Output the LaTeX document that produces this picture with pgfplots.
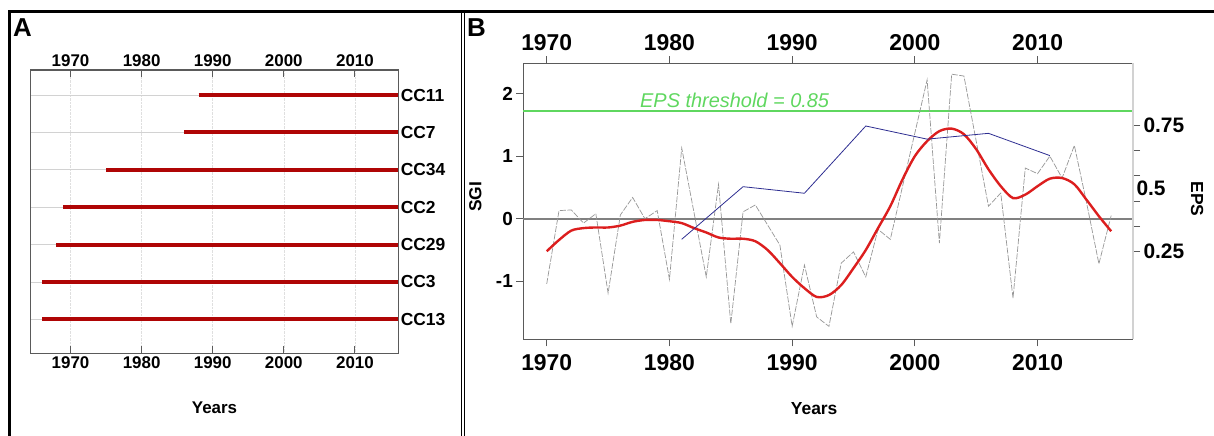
\documentclass[border=0pt]{standalone}
\usepackage{pgfplots}
\pgfplotsset{compat=1.18}
\usepackage{fontspec}
\setmainfont{Liberation Sans}
\definecolor{barred}{RGB}{175,5,5}
\definecolor{smred}{RGB}{220,30,30}
\definecolor{epsblue}{RGB}{45,45,145}
\definecolor{thrgreen}{RGB}{95,215,95}
\definecolor{sgigrey}{RGB}{150,150,150}
\definecolor{axgrey}{RGB}{90,90,90}

\pgfplotstableread{
year sgi
1970 -1.04
1971 0.13
1972 0.14
1973 -0.07
1974 0.08
1975 -1.19
1976 0.06
1977 0.34
1978 0.0
1979 0.13
1980 -0.97
1981 1.13
1982 0.1
1983 -0.93
1984 0.55
1985 -1.68
1986 0.11
1987 0.22
1988 -0.1
1989 -0.42
1990 -1.72
1991 -0.74
1992 -1.57
1993 -1.72
1994 -0.71
1995 -0.53
1996 -0.93
1997 -0.17
1998 -0.33
1999 0.52
2000 1.37
2001 2.22
2002 -0.39
2003 2.31
2004 2.28
2005 1.24
2006 0.2
2007 0.41
2008 -1.27
2009 0.81
2010 0.72
2011 1.0
2012 0.65
2013 1.17
2014 0.25
2015 -0.72
2016 0.05
}\sgitable

\pgfplotstableread{
year smooth
1970 -0.52
1971 -0.34
1972 -0.19
1973 -0.15
1974 -0.14
1975 -0.14
1976 -0.11
1977 -0.05
1978 -0.02
1979 -0.02
1980 -0.04
1981 -0.07
1982 -0.15
1983 -0.22
1984 -0.30
1985 -0.32
1986 -0.32
1987 -0.36
1988 -0.50
1989 -0.71
1990 -0.93
1991 -1.11
1992 -1.25
1993 -1.22
1994 -1.06
1995 -0.79
1996 -0.50
1997 -0.15
1998 0.20
1999 0.63
2000 1.00
2001 1.24
2002 1.40
2003 1.44
2004 1.35
2005 1.11
2006 0.79
2007 0.52
2008 0.33
2009 0.385
2010 0.52
2011 0.64
2012 0.65
2013 0.55
2014 0.30
2015 0.04
2016 -0.20
}\smoothtable

\pgfplotstableread{
year eps
1981 0.299
1986 0.507
1991 0.481
1996 0.747
2001 0.695
2006 0.718
2011 0.630
}\epstable

\begin{document}
\begin{tikzpicture}[x=1bp,y=1bp]
\useasboundingbox (0,0) rectangle (1214,436);
% frame
\draw[line width=3bp] (9.5,0) -- (9.5,424) -- (1214,424);
\draw[line width=1.5bp] (461.5,0) -- (461.5,424);
\draw[line width=1.5bp] (464.5,0) -- (464.5,424);
\node[anchor=base west, inner sep=0, font=\fontsize{26}{30}\selectfont\bfseries] at (13,399) {A};
\node[anchor=base west, inner sep=0, font=\fontsize{26}{30}\selectfont\bfseries] at (467,399) {B};

% ---------------- Panel A ----------------
\begin{axis}[
  at={(30.7bp,82.7bp)}, anchor=south west, scale only axis,
  width=367.6bp, height=283.3bp,
  xmin=1964.4, xmax=2016.1, ymin=0.09, ymax=7.67,
  axis line style={axgrey, line width=1.2bp},
  tick align=inside, major tick length=7bp,
  xtick={1970,1980,...,2010},
  x tick style={axgrey, line width=1bp},
  ytick={1,...,7},
  yticklabels={CC13,CC3,CC29,CC2,CC34,CC7,CC11},
  yticklabel pos=right,
  y tick style={draw=none},
  xmajorgrids, ymajorgrids,
  x grid style={gray!25, densely dotted, line width=0.6bp},
  y grid style={gray!35, line width=0.6bp},
  x tick label style={font=\fontsize{17}{19}\selectfont\bfseries},
  y tick label style={font=\fontsize{17.5}{20}\selectfont\bfseries, xshift=-1bp},
  /pgf/number format/assume math mode=true,
  /pgf/number format/1000 sep={},
  xlabel={Years},
  xlabel style={at={(axis description cs:0.5,0)}, anchor=center, yshift=-54bp, font=\fontsize{17}{20}\selectfont\bfseries},
]
\addplot[barred, line width=4bp] coordinates {(1988,7) (2016.1,7)};
\addplot[barred, line width=4bp] coordinates {(1986,6) (2016.1,6)};
\addplot[barred, line width=4bp] coordinates {(1975,5) (2016.1,5)};
\addplot[barred, line width=4bp] coordinates {(1969,4) (2016.1,4)};
\addplot[barred, line width=4bp] coordinates {(1968,3) (2016.1,3)};
\addplot[barred, line width=4bp] coordinates {(1966,2) (2016.1,2)};
\addplot[barred, line width=4bp] coordinates {(1966,1) (2016.1,1)};
\end{axis}

\begin{axis}[
  at={(30.7bp,82.7bp)}, anchor=south west, scale only axis,
  width=367.6bp, height=283.3bp,
  xmin=1964.4, xmax=2016.1, ymin=0.09, ymax=7.67,
  axis x line*=top, axis line style={draw=none},
  hide y axis,
  xtick={1970,1980,...,2010},
  x tick style={draw=none},
  x tick label style={font=\fontsize{17}{19}\selectfont\bfseries},
  /pgf/number format/assume math mode=true,
  /pgf/number format/1000 sep={},
]
\addplot[draw=none] coordinates {(1970,1)};
\end{axis}

% ---------------- Panel B ----------------
\begin{axis}[
  at={(523.3bp,96.7bp)}, anchor=south west, scale only axis,
  width=609.7bp, height=276bp,
  xmin=1968.09, xmax=2017.78, ymin=-1.927, ymax=2.484,
  axis x line*=bottom, axis y line*=left,
  axis line style={-, axgrey, line width=1.2bp},
  tick align=outside, major tick length=7bp,
  tick style={axgrey, line width=1bp},
  xtick={1970,1980,...,2010}, ytick={-1,0,1,2},
  x tick label style={font=\fontsize{23}{26}\selectfont\bfseries, yshift=-5bp},
  y tick label style={font=\fontsize{19}{22}\selectfont\bfseries},
  /pgf/number format/assume math mode=true,
  /pgf/number format/1000 sep={},
  xlabel={Years}, ylabel={SGI},
  xlabel style={at={(axis description cs:0.5,0)}, anchor=center, xshift=-14bp, yshift=-69bp, font=\fontsize{17.5}{20}\selectfont\bfseries},
  ylabel style={at={(axis description cs:-0.0787,0.516)}, anchor=center, font=\fontsize{17.5}{20}\selectfont\bfseries},
  clip=false,
]
\addplot[thrgreen, line width=1.2bp] coordinates {(1968.09,1.72) (2017.78,1.72)};
\node[anchor=base west, inner sep=0, text=thrgreen, font=\fontsize{20}{24}\selectfont\itshape] at (axis cs:1977.6,1.78) {EPS threshold = 0.85};
\addplot[gray, line width=1.8bp] coordinates {(1968.09,0) (2017.78,0)};
\addplot[sgigrey, line width=0.7bp, dash pattern=on 6bp off 1.5bp] table[x=year, y=sgi] {\sgitable};
\addplot[smred, line width=2.4bp, smooth] table[x=year, y=smooth] {\smoothtable};
\end{axis}

\begin{axis}[
  at={(523.3bp,96.7bp)}, anchor=south west, scale only axis,
  width=609.7bp, height=276bp,
  xmin=1968.09, xmax=2017.78, ymin=-0.0965, ymax=0.995,
  axis x line*=top, axis y line*=right,
  x axis line style={-, axgrey, line width=1.2bp},
  y axis line style={-, gray!35, line width=1.2bp},
  tick align=outside, major tick length=7bp,
  tick style={axgrey, line width=1bp},
  xtick={1970,1980,...,2010},
  ytick={0.25,0.35,0.45,0.55,0.65,0.75},
  yticklabels={0.25,,,,,0.75},
  extra y ticks={0.5}, extra y tick labels={0.5},
  extra y tick style={major tick length=0pt, tick style={draw=none}},
  x tick label style={font=\fontsize{23}{26}\selectfont\bfseries, yshift=2bp},
  y tick label style={font=\fontsize{21}{24}\selectfont\bfseries},
  /pgf/number format/assume math mode=true,
  /pgf/number format/1000 sep={},
  ylabel={EPS},
  ylabel style={at={(axis description cs:1.105,0.508)}, anchor=center, rotate=180, font=\fontsize{17.5}{20}\selectfont\bfseries},
]
\addplot[epsblue, line width=0.8bp] table[x=year, y=eps] {\epstable};
\end{axis}
\end{tikzpicture}
\end{document}
